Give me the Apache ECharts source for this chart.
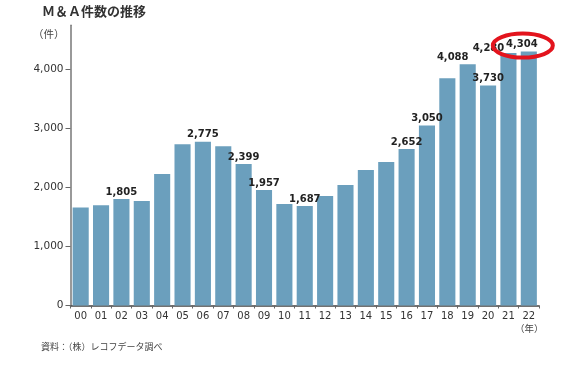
<!DOCTYPE html>
<html>
<head>
<meta charset="utf-8">
<script src="https://cdn.jsdelivr.net/npm/echarts@6/dist/echarts.min.js"></script>
<style>
html,body{margin:0;padding:0;background:#fff;}
#chart{width:574px;height:367px;}
</style>
</head>
<body>
<div id="chart"></div>
<script>
// ---- data ----
const categories = ['00','01','02','03','04','05','06','07','08','09','10','11','12','13','14','15','16','17','18','19','20','21','22'];
const dealCounts = [1660, 1700, 1805, 1770, 2230, 2735, 2775, 2700, 2399, 1957, 1720, 1687, 1856, 2041, 2297, 2432, 2652, 3050, 3850, 4088, 3730, 4280, 4304];
const labeledIndices = [2, 6, 8, 9, 11, 16, 17, 19, 20, 21, 22];
const yTickValues = [0, 1000, 2000, 3000, 4000];
const highlightIndex = 22;

const titleText = 'Ｍ＆Ａ件数の推移';
const yUnitText = '（件）';
const xUnitText = '（年）';
const sourceText = '資料：（株）レコフデータ調べ';

// label nudges (layout only)
const labelOffsets = {19: [-15, 0], 21: [-20, 2], 22: [-7, 0]};

const fmt = v => Number(v).toLocaleString('en-US');
const numFont = '"DejaVu Sans", Verdana, sans-serif';
const jpFont = '"Noto Sans CJK JP", sans-serif';

const seriesData = dealCounts.map((v, i) => {
  const show = labeledIndices.indexOf(i) >= 0;
  const item = {value: v, label: {show: show}};
  if (labelOffsets[i]) item.label.offset = labelOffsets[i];
  return item;
});

const chart = echarts.init(document.getElementById('chart'), null, {renderer: 'canvas'});
chart.setOption({
  animation: false,
  backgroundColor: '#ffffff',
  grid: {left: 70.5, right: 35, top: 25.25, bottom: 61.5, containLabel: false},
  xAxis: {
    type: 'category',
    data: categories,
    axisLine: {lineStyle: {color: '#444', width: 1.5}},
    axisTick: {show: true, length: 3, lineStyle: {color: '#666'}},
    axisLabel: {color: '#333', fontSize: 10, fontFamily: numFont, margin: 6, interval: 0}
  },
  yAxis: {
    type: 'value',
    min: 0, max: 4750, interval: 1000,
    splitLine: {show: false},
    axisLine: {show: true, lineStyle: {color: '#777', width: 1.5}},
    axisTick: {show: true, length: 5, customValues: yTickValues, lineStyle: {color: '#666'}},
    axisLabel: {color: '#333', fontSize: 10.5, fontFamily: numFont, margin: 7,
      customValues: yTickValues, formatter: v => fmt(v)}
  },
  series: [{
    type: 'bar',
    data: seriesData,
    barCategoryGap: '21%',
    itemStyle: {color: '#6b9fbd'},
    label: {
      position: 'top', distance: 2,
      color: '#222', fontWeight: 'bold', fontSize: 10, fontFamily: numFont,
      formatter: p => fmt(p.value)
    }
  }],
  graphic: [
    {id: 'title', type: 'text', left: 42, top: 5, style: {text: titleText, font: 'bold 13px ' + jpFont, fill: '#333'}},
    {id: 'yunit', type: 'text', left: 33, top: 29, style: {text: yUnitText, font: '10.5px ' + jpFont, fill: '#444'}},
    {id: 'xunit', type: 'text', left: 515, top: 324, style: {text: xUnitText, font: '9.5px ' + jpFont, fill: '#444'}},
    {id: 'source', type: 'text', left: 41, top: 342, style: {text: sourceText, font: '9px ' + jpFont, fill: '#444'}}
  ]
});

// red ellipse annotation around the highlighted value, positioned from the data
const p = chart.convertToPixel({seriesIndex: 0}, [highlightIndex, dealCounts[highlightIndex]]);
chart.setOption({
  graphic: [{
    id: 'highlight', type: 'ellipse', z: 100,
    shape: {cx: p[0] - 6, cy: p[1] - 6, rx: 30, ry: 12},
    style: {fill: 'none', stroke: '#e3141d', lineWidth: 4}
  }]
});
</script>
</body>
</html>
